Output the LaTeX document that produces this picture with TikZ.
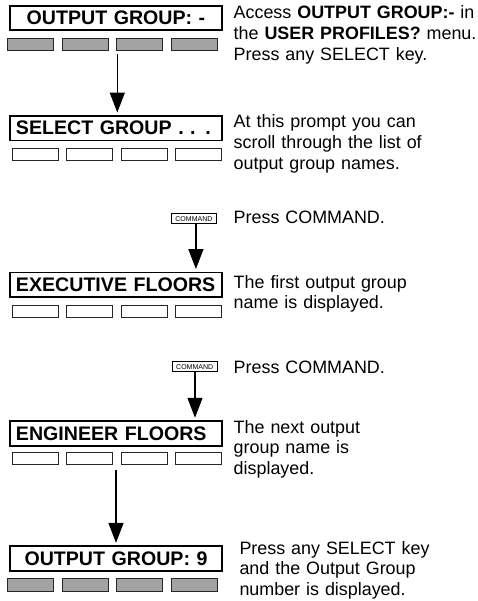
\documentclass[tikz,border=0pt]{standalone}
\usepackage{fontspec}
\setmainfont{Liberation Sans}
\usetikzlibrary{arrows.meta,calc}
\definecolor{keygray}{gray}{0.64}
\tikzset{
         lcd/.style={rectangle,draw,line width=1.8pt,minimum width=212pt,minimum height=24.5pt,
                     inner ysep=0pt,inner xsep=6pt,text width=200pt,align=left,
                     font=\fontsize{19.6}{22}\selectfont\bfseries},
         key/.style={draw=black!85,line width=0.9pt},
         cmdkey/.style={rectangle,draw,line width=1.1pt,minimum width=45pt,minimum height=10pt,
                        inner sep=0pt,font=\fontsize{7}{8}\selectfont},
         flow/.style={line width=1.3pt,-{Triangle[length=20pt,width=15pt]},shorten >=2.5pt},
         note/.style={anchor=base west,inner sep=0pt,text width=243pt,align=left,
                      font=\fontsize{17.9}{20.8}\selectfont}
        }
\begin{document}
\begin{tikzpicture}[x=1pt,y=-1pt]
\useasboundingbox(0,0)rectangle(477,601);
%displays
\node[lcd,align=center](outA)at(116,18){OUTPUT GROUP: -};
\node[lcd](sel)at(116,128.2){SELECT GROUP . . .};
\node[lcd](exe)at(116,284.7){EXECUTIVE FLOORS};
\node[lcd](eng)at(116,433.4){ENGINEER FLOORS};
\node[lcd,align=center](outB)at(116,558.5){OUTPUT GROUP: 9};
%select keys
\foreach \y in {38,578.5}{
  \foreach \x in {7.3,62,116.3,171}
    \draw[key,fill=keygray](\x,\y)rectangle++(46.5,12.5);}
\foreach \y in {148,305,452}{
  \foreach \x in {12.7,66.7,121,175.3}
    \draw[key,fill=white](\x,\y)rectangle++(46,12);}
%command keys
\node[cmdkey](cmdA)at(193.9,218.8){COMMAND};
\node[cmdkey](cmdB)at(194.7,366.7){COMMAND};
%arrows
\coordinate(s1)at(117.3,54);
\coordinate(s2)at($(cmdA.south)+(2,0)$);
\coordinate(s3)at($(cmdB.south)+(0.3,0)$);
\coordinate(s4)at(116,470);
\draw[flow](s1)--(s1|-sel.north);
\draw[flow](s2)--(s2|-exe.north);
\draw[flow](s3)--(s3|-eng.north);
\draw[flow](s4)--(s4|-outB.north);
%notes
\node[note](t1)at(233.5,19){Access \textbf{OUTPUT GROUP:-} in\\the \textbf{USER PROFILES?} menu.\\Press any SELECT key.};
\node[note](t2)at(233.5,128){At this prompt you can\\scroll through the list of\\output group names.};
\node[note](t3)at(233.5,224){Press COMMAND.};
\node[note](t4)at(233.5,288){The first output group\\name is displayed.};
\node[note](t5)at(233.5,373){Press COMMAND.};
\node[note](t6)at(233.5,433){The next output\\group name is\\displayed.};
\node[note](t7)at(239.3,554){Press any SELECT key\\and the Output Group\\number is displayed.};
\end{tikzpicture}
\end{document}
